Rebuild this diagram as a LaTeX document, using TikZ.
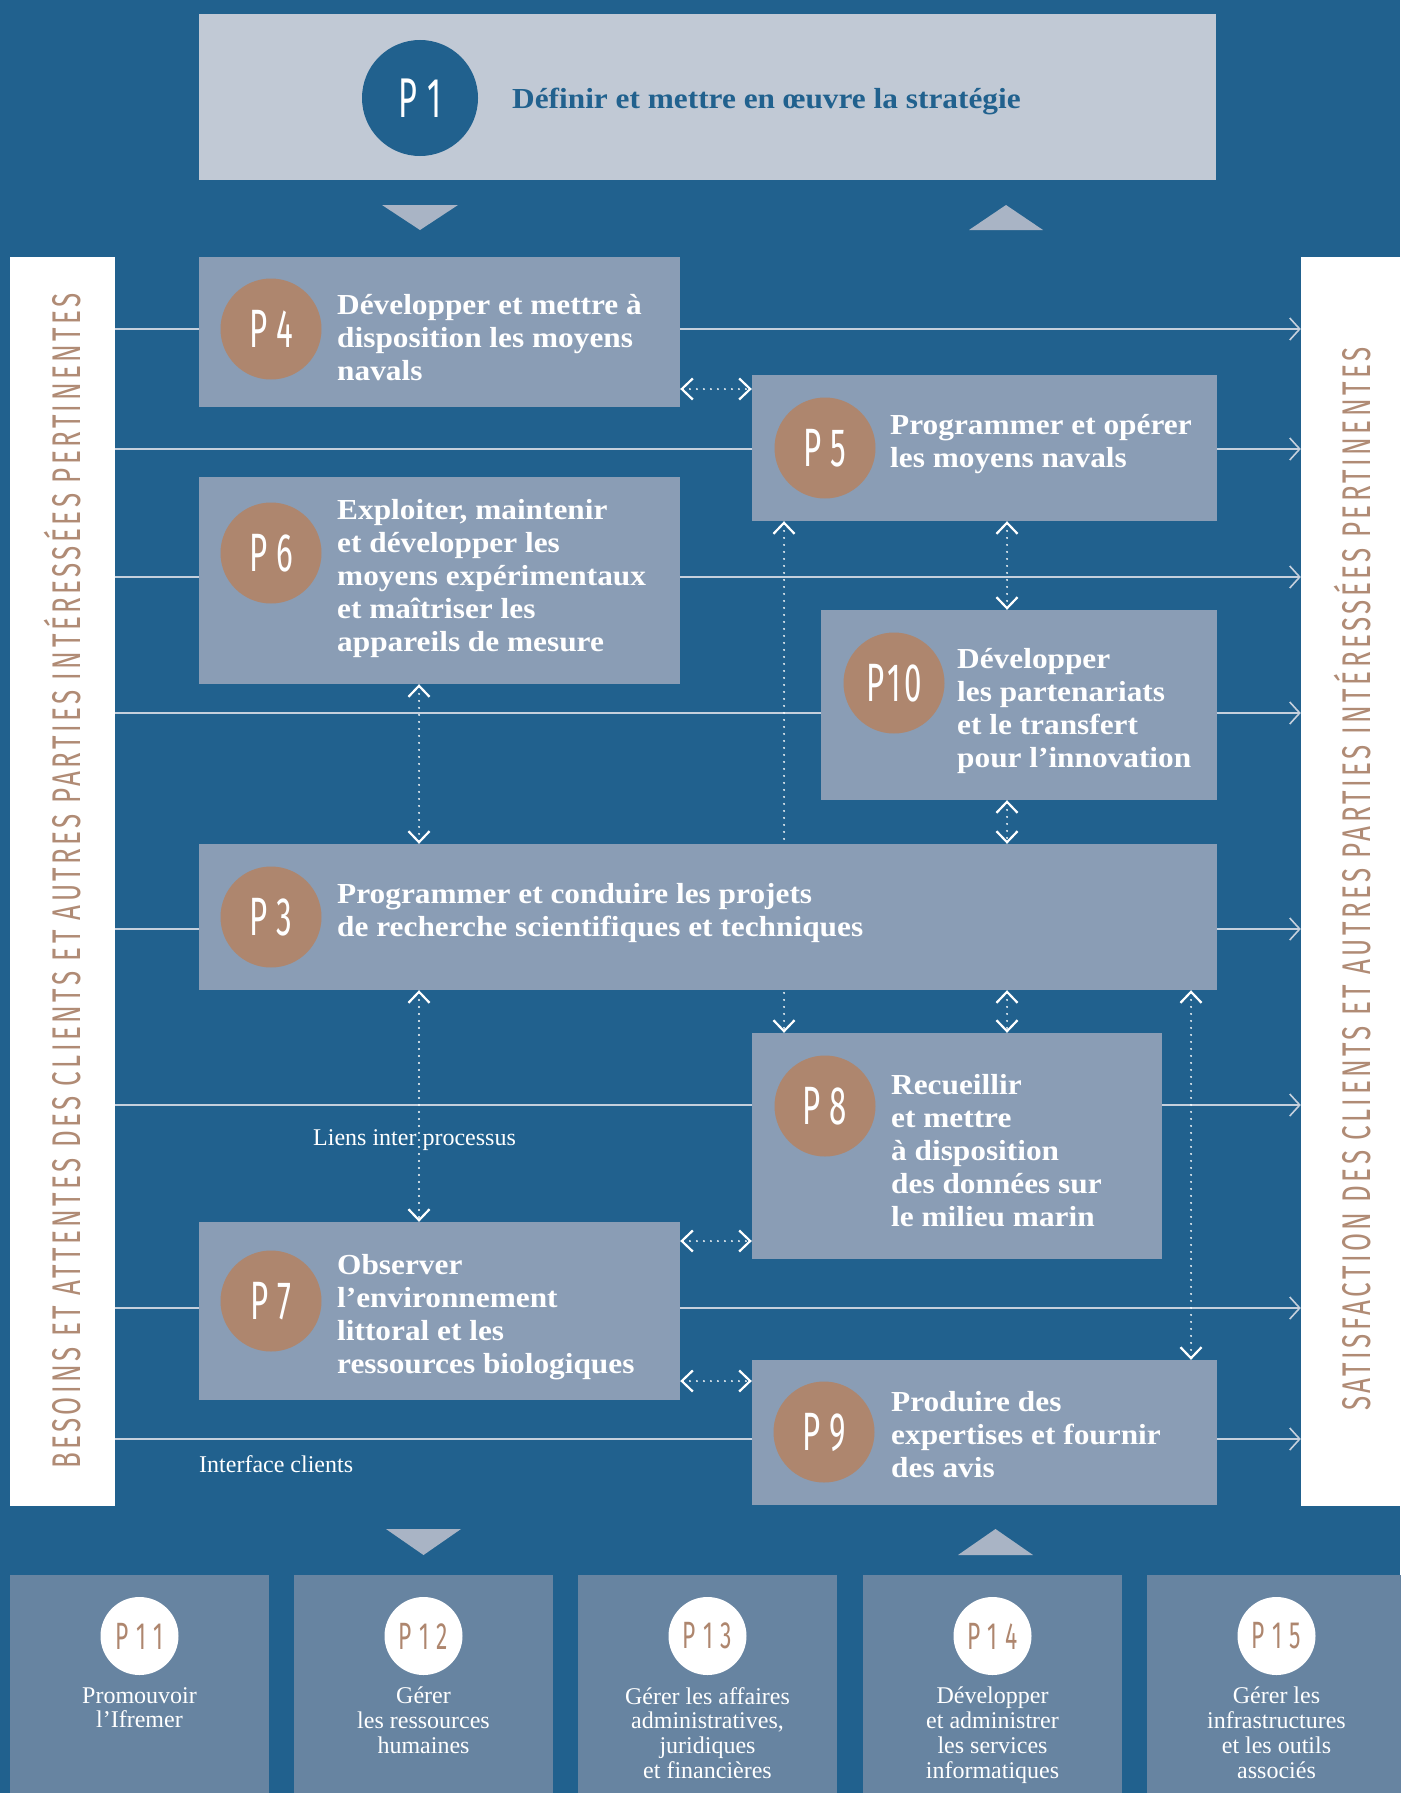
\documentclass[tikz,border=0pt]{standalone}
\usepackage{fontspec}
\setmainfont{Liberation Serif}
\newfontfamily\boxfont[FakeStretch=1.08]{Liberation Serif}
\newfontfamily\pnumfont[FakeStretch=0.58,LetterSpace=6]{Fira Sans}
\newfontfamily\lownumfont[FakeStretch=0.6,LetterSpace=20]{Fira Sans}
\newfontfamily\sidefont[FakeStretch=0.65,LetterSpace=8.6]{Fira Sans}
\usetikzlibrary{arrows.meta,backgrounds}
\definecolor{bgblue}{HTML}{21618E}
\definecolor{boxgray}{HTML}{8A9DB5}
\definecolor{topgray}{HTML}{C1C9D5}
\definecolor{circbrown}{HTML}{AE866E}
\definecolor{lowblue}{HTML}{6784A1}
\definecolor{trigray}{HTML}{A9B4C5}
\definecolor{sidebrown}{HTML}{B08B75}
\definecolor{flowgray}{HTML}{C5D0DD}

\begin{document}
\begin{tikzpicture}[x=1pt,y=-1pt,
  bx/.style n args={2}{fill=boxgray,minimum width=#1,minimum height=#2,inner sep=0},
  pcirc/.style={circle,fill=circbrown,minimum size=101,inner sep=0,text=white,font=\pnumfont\fontsize{54}{54}\selectfont},
  ptext/.style={anchor=west,align=left,inner sep=0,text=white,font=\boxfont\fontsize{29}{33}\selectfont\bfseries},
  lowtext/.style={anchor=north,align=center,inner sep=0,text=white,font=\fontsize{24}{24.7}\selectfont},
  note/.style={anchor=west,inner sep=0,text=white,font=\fontsize{24}{24}\selectfont},
  sidetext/.style={rotate=90,inner sep=0,text=sidebrown,font=\sidefont\fontsize{40}{40}\selectfont},
  flow/.style={draw=flowgray,line width=1.6pt,-{Straight Barb[length=10pt,width=22pt]}},
  link/.style={draw=white,line width=2.2pt,line cap=round,dash pattern=on 0pt off 7pt,
    {Straight Barb[length=11pt,width=21pt]}-{Straight Barb[length=11pt,width=21pt]}}]
\useasboundingbox (0,0) rectangle (1400,1793);
\begin{scope}[on background layer]
\fill[bgblue] (0,0) rectangle (1400,1793);
\end{scope}

\node[fill=topgray,minimum width=1017,minimum height=166,inner sep=0] (p1) at (707.5,97) {};
\node[circle,fill=bgblue,minimum size=116,inner sep=0,text=white,font=\pnumfont\fontsize{56}{56}\selectfont] (c1) at (420,98) {P\,1};
\node[anchor=base west,inner sep=0,text=bgblue,font=\boxfont\fontsize{29}{30}\selectfont\bfseries] (t1) at (512,108) {Définir et mettre en œuvre la stratégie};

\fill[trigray] (382,205) -- (458,205) -- (420,230) -- cycle;
\fill[trigray] (969,230) -- (1043,230) -- (1006,205) -- cycle;

\node[fill=white,minimum width=105,minimum height=1249,inner sep=0] (needs) at (62.5,881.5) {};
\node[fill=white,minimum width=99,minimum height=1249,inner sep=0] (satis) at (1350.5,881.5) {};
\node[sidetext] (needstext) at (63,881) {BESOINS ET ATTENTES DES CLIENTS ET AUTRES PARTIES INTÉRESSÉES PERTINENTES};
\node[sidetext] (satistext) at (1353,879) {SATISFACTION DES CLIENTS ET AUTRES PARTIES INTÉRESSÉES PERTINENTES};

\node[bx={481}{150}] (p4) at (439.5,332) {};
\node[bx={465}{146}] (p5) at (984.5,448) {};
\node[bx={481}{207}] (p6) at (439.5,580.5) {};
\node[bx={396}{190}] (p10) at (1019,705) {};
\node[bx={1018}{146}] (p3) at (708,917) {};
\node[bx={410}{226}] (p8) at (957,1146) {};
\node[bx={481}{178}] (p7) at (439.5,1311) {};
\node[bx={465}{145}] (p9) at (984.5,1432.5) {};

\node[pcirc] (c4) at (271,329) {P\,4};
\node[pcirc] (c5) at (825,448) {P\,5};
\node[pcirc] (c6) at (271,553) {P\,6};
\node[pcirc] (c10) at (894,683) {P10};
\node[pcirc] (c3) at (271,917) {P\,3};
\node[pcirc] (c8) at (825,1106) {P\,8};
\node[pcirc] (c7) at (271,1301) {P\,7};
\node[pcirc] (c9) at (824,1432) {P\,9};

\node[ptext] (t4) at (337,338) {Développer et mettre à\\disposition les moyens\\navals};
\node[ptext] (t5) at (890,444) {Programmer et opérer\\les moyens navals};
\node[ptext] (t6) at (337,579) {Exploiter, maintenir\\et développer les\\moyens expérimentaux\\et maîtriser les\\appareils de mesure};
\node[ptext] (t10) at (957,711) {Développer\\les partenariats\\et le transfert\\pour l’innovation};
\node[ptext] (t3) at (337,913) {Programmer et conduire les projets\\de recherche scientifiques et techniques};
\node[ptext] (t8) at (891,1151) {Recueillir\\et mettre\\à disposition\\des données sur\\le milieu marin};
\node[ptext] (t7) at (337,1317) {Observer\\l’environnement\\littoral et les\\ressources biologiques};
\node[ptext] (t9) at (891,1435) {Produire des\\expertises et fournir\\des avis};

\begin{scope}[on background layer]
\foreach \yy in {329,449,577,713,929,1105,1308,1439} {
  \coordinate (row) at (0,\yy);
  \draw[flow] (needs.east |- row) -- (satis.west |- row);
}
\coordinate (colA) at (784,0);
\draw[link] (p5.south -| colA) -- (p8.north -| colA);
\end{scope}

\coordinate (colB) at (1007,0);
\coordinate (colC) at (419,0);
\coordinate (colD) at (1191,0);
\coordinate (rowA) at (0,389);
\coordinate (rowB) at (0,1241);
\coordinate (rowC) at (0,1381);
\draw[link] (p4.east |- rowA) -- (p5.west |- rowA);
\draw[link] (p5.south -| colB) -- (p10.north -| colB);
\draw[link] (p10.south -| colB) -- (p3.north -| colB);
\draw[link] (p3.south -| colB) -- (p8.north -| colB);
\draw[link] (p6.south -| colC) -- (p3.north -| colC);
\draw[link] (p3.south -| colC) -- (p7.north -| colC);
\draw[link] (p3.south -| colD) -- (p9.north -| colD);
\draw[link] (p7.east |- rowB) -- (p8.west |- rowB);
\draw[link] (p7.east |- rowC) -- (p9.west |- rowC);

\node[note] (links) at (313,1140) {Liens inter processus};
\node[note] (clients) at (199,1464) {Interface clients};

\fill[trigray] (386,1529) -- (461,1529) -- (423.5,1555) -- cycle;
\fill[trigray] (958,1555) -- (1033,1555) -- (995.5,1529) -- cycle;

\foreach \n/\cx/\txt in {11/139.5/{Promouvoir\\l’Ifremer},
    12/423.5/{Gérer\\les ressources\\humaines},
    13/707.5/{Gérer les affaires\\administratives,\\juridiques\\et financières},
    14/992.5/{Développer\\et administrer\\les services\\informatiques},
    15/1276.5/{Gérer les\\infrastructures\\et les outils\\associés}} {
  \node[fill=lowblue,minimum width=259,minimum height=218,inner sep=0,anchor=north] (b\n) at (\cx,1575) {};
  \node[circle,fill=white,minimum size=78,inner sep=0,text=circbrown,font=\lownumfont\fontsize{38}{38}\selectfont] (bc\n) at (\cx,1636) {P\n};
  \node[lowtext] (bt\n) at (\cx,1687) {\txt};
}
\end{tikzpicture}
\end{document}
